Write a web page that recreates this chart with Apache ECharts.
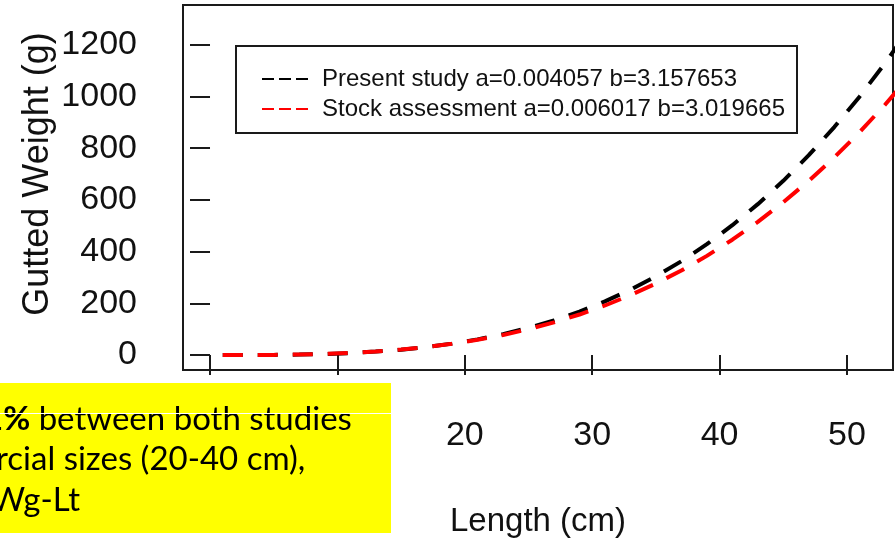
<!DOCTYPE html>
<html><head><meta charset="utf-8">
<script src="https://cdn.jsdelivr.net/npm/echarts@6/dist/echarts.min.js"></script>
<style>html,body{margin:0;padding:0;background:#fff}#c{width:895px;height:543px}</style>
</head><body><div id="c"></div>
<script>
// Length (cm)
const lengths = [1,3,5,7,9,11,13,15,17,19,21,23,25,27,29,31,33,35,37,39,41,43,45,47,49,51,53,55];
// Gutted weight (g)
const presentStudy = [0.004,0.13,0.65,1.9,4.2,7.9,13.4,21.0,31.2,44.3,60.7,80.9,105.3,134.3,168.3,207.7,253.0,304.6,363.0,428.8,502.2,583.6,673.8,773.0,881.7,1000.3,1129.6,1269.7];
const stockAssessment = [0.006,0.17,0.78,2.1,4.6,8.4,13.9,21.4,31.3,43.7,59.2,77.9,100.2,126.4,156.8,191.8,231.6,276.7,327.2,383.6,446.1,515.1,591.0,673.9,764.3,862.6,968.9,1083.6];
const xTicks = [0,10,20,30,40,50];
const yTicks = [0,200,400,600,800,1000,1200];
const seriesNames = ['Present study a=0.004057 b=3.157653','Stock assessment a=0.006017 b=3.019665'];
const noteBold = '1%';
const noteLines = [' between both studies','rcial sizes (20-40 cm),','Wg-Lt'];

const FONT = '"Liberation Sans", Arial, sans-serif';
const NOTE_FONT = 'Lato, "Open Sans", sans-serif';
const chart = echarts.init(document.getElementById('c'), null, {renderer:'canvas'});
chart.setOption({
  animation:false,
  backgroundColor:'#ffffff',
  grid:{left:183, top:5, right:2, bottom:171, show:true, borderColor:'#1a1a1a', borderWidth:2, backgroundColor:'transparent'},
  xAxis:{type:'value', min:-2.12, max:53.61,
    axisLine:{show:false}, splitLine:{show:false},
    axisTick:{show:true, inside:false, length:20, customValues:xTicks, lineStyle:{color:'#1a1a1a', width:2}},
    axisLabel:{show:true, customValues:xTicks, margin:49, fontFamily:FONT, fontSize:34, color:'#111', formatter:v=>String(v)},
    name:'Length (cm)', nameLocation:'middle', nameGap:135,
    nameTextStyle:{fontFamily:FONT, fontSize:33, color:'#111'}},
  yAxis:{type:'value', min:-57.7, max:1353.8,
    axisLine:{show:false}, splitLine:{show:false},
    axisTick:{show:true, inside:false, length:20, customValues:yTicks, lineStyle:{color:'#1a1a1a', width:2}},
    axisLabel:{show:true, customValues:yTicks, margin:46, fontFamily:FONT, fontSize:34, color:'#111', formatter:v=>String(v)}},
  legend:{orient:'vertical', left:256, top:61, itemWidth:47, itemHeight:26, itemGap:4, z:10,
    textStyle:{fontFamily:FONT, fontSize:24, color:'#111', padding:[0,0,0,8], lineHeight:26},
    lineStyle:{type:[12,5], width:2, opacity:1},
    itemStyle:{opacity:0},
    data:seriesNames},
  series:[
    {name:seriesNames[0], type:'line', symbol:'none', clip:true, z:2,
     data:lengths.map((l,i)=>[l,presentStudy[i]]),
     lineStyle:{color:'#000000', width:4, type:[20,15]}, itemStyle:{color:'#000000'}},
    {name:seriesNames[1], type:'line', symbol:'none', clip:true, z:3,
     data:lengths.map((l,i)=>[l,stockAssessment[i]]),
     lineStyle:{color:'#ff0000', width:4, type:[20,15]}, itemStyle:{color:'#ff0000'}}
  ],
  graphic:[
    {type:'rect', z:5, shape:{x:236, y:46, width:561, height:87}, style:{fill:'#fff', stroke:'#1a1a1a', lineWidth:2}},
    {type:'text', z:6, x:38, y:174, rotation:Math.PI/2,
     style:{text:'Gutted Weight (g)', fontFamily:FONT, fontSize:36, fill:'#111', align:'center', verticalAlign:'middle', textAlign:'center', textVerticalAlign:'middle'}},
    {type:'rect', z:100, shape:{x:0, y:383, width:391, height:150}, style:{fill:'#ffff00'}},
    {type:'text', z:101, x:-16, y:419,
     style:{text:'{b|'+noteBold+'}'+noteLines[0], fontFamily:NOTE_FONT, fontSize:33, fill:'#000', verticalAlign:'middle', textVerticalAlign:'middle',
       rich:{b:{fontFamily:NOTE_FONT, fontSize:33, fontWeight:'bold', fill:'#000'}}}},
    {type:'text', z:101, x:-4, y:459,
     style:{text:noteLines[1], fontFamily:NOTE_FONT, fontSize:33, fill:'#000', verticalAlign:'middle', textVerticalAlign:'middle'}},
    {type:'text', z:101, x:-9, y:500,
     style:{text:noteLines[2], fontFamily:NOTE_FONT, fontSize:33, fill:'#000', verticalAlign:'middle', textVerticalAlign:'middle'}},
    {type:'line', z:102, shape:{x1:0, y1:413.5, x2:391, y2:413.5}, style:{stroke:'#ffffff', lineWidth:1}}
  ]
});
</script>
</body></html>
